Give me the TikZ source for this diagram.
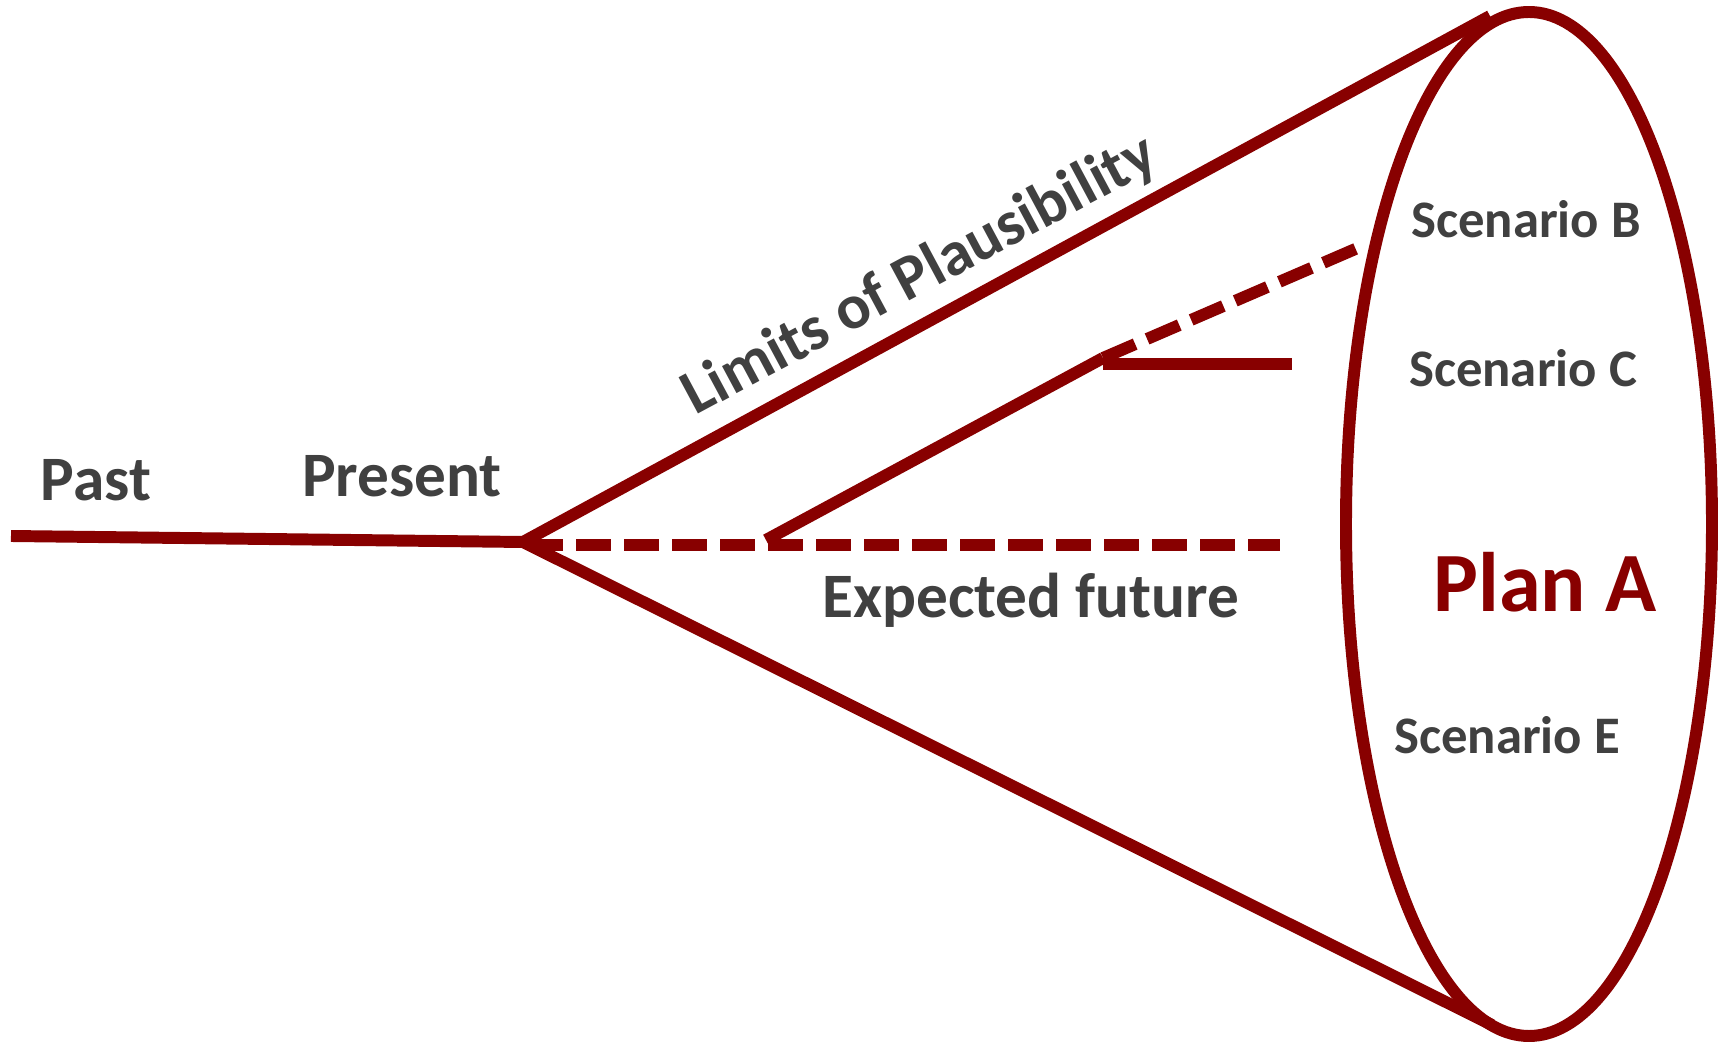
\documentclass[tikz,border=0pt]{standalone}
\usepackage{fontspec}
\setmainfont{Carlito}
\usepackage{tikz}
\usetikzlibrary{calc}
\usepackage{xcolor}
\definecolor{conered}{RGB}{136, 0, 0}
\definecolor{textgray}{RGB}{64, 64, 64}

\begin{document}
\begin{tikzpicture}[x=0.01cm, y=-0.01cm,
    cone/.style={conered, line width=3.4pt},
    guess/.style={cone, dash pattern=on 0.35cm off 0.13cm},
    lbl/.style={textgray, font=\bfseries\fontsize{18}{20}\selectfont, inner sep=0pt, anchor=base},
    scen/.style={lbl, font=\bfseries\fontsize{15}{17}\selectfont}]
      \useasboundingbox (0,0) rectangle (1723,1043);

      % points of the timeline
      \coordinate (start) at (11,536);
      \coordinate (now) at (523,542);
      \coordinate (top) at (1490,16);
      \coordinate (bottom) at (1492,1025);
      \coordinate (fork) at (766,540);
      \coordinate (bend) at (1103,358);
      \coordinate (flatend) at (1292,364);
      \coordinate (dashend) at (1360,247);
      \coordinate (expend) at (1280,545);

      \draw[cone] (1529,524) ellipse [x radius=183, y radius=512];
      \draw[cone] (start) -- (now);
      \draw[cone] (now) -- (top);
      \draw[cone] (now) -- (bottom);
      \draw[guess] ($(now)+(5,3)$) -- (expend);
      \draw[cone] (fork) -- (bend);
      \draw[cone] (bend |- flatend) -- (flatend);
      \draw[guess] (bend) -- (dashend);

      \node[lbl] (past) at (96,501) {Past};
      \node[lbl] (present) at (402,497) {Present};
      \node[lbl, anchor=center, rotate=28.2] (limits) at (920,276) {Limits of Plausibility};
      \node[lbl] (expected) at (1031,618) {Expected future};
      \node[scen] (scenb) at (1526,238) {Scenario B};
      \node[scen] (scenc) at (1523,387) {Scenario C};
      \node[lbl, conered, font=\bfseries\fontsize{24}{28}\selectfont] (plana) at (1545,612) {Plan A};
      \node[scen] (scene) at (1507,754) {Scenario E};
    \end{tikzpicture}
\end{document}
